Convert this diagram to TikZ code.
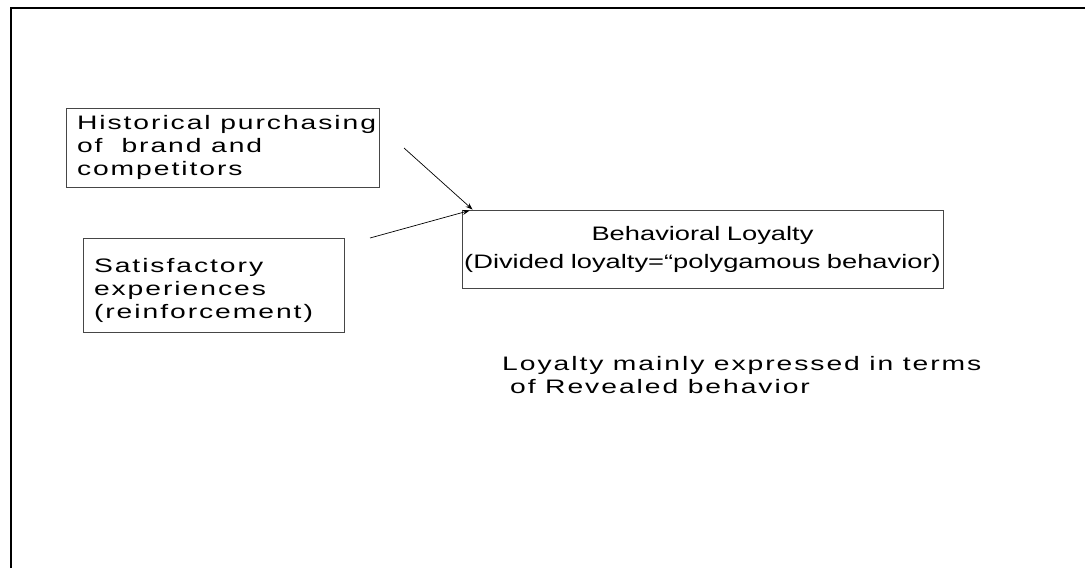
\documentclass[tikz,border=0pt]{standalone}
\usepackage{fontspec}
\setmainfont{Liberation Sans}[FakeStretch=1.4]
\newfontfamily\spacedfont{Liberation Sans}[FakeStretch=1.45,LetterSpace=10]
\usetikzlibrary{arrows.meta, positioning, calc}
\definecolor{boxline}{RGB}{70,70,70}
\newcommand{\bodysize}{\fontsize{19.5}{23}\selectfont}

\begin{document}
\begin{tikzpicture}[x=1pt, y=-1pt, font=\bodysize,
        box/.style={draw=boxline, line width=0.9pt, inner sep=0pt},
        spaced/.style={font=\spacedfont\bodysize, execute at begin node={\spaceskip=9.5pt}},
        link/.style={-{Stealth[length=7pt,width=5pt]}, line width=0.7pt}]
    \useasboundingbox (0,0) rectangle (1085,568);
    % frame
    \draw[line width=2.6pt] (11,568) -- (11,8) -- (1085,8);

    \node[box, spaced, minimum width=313pt, minimum height=79pt, text width=291pt, align=left]
          (hist) at (222.5,147.5)
          {\mbox{Historical purchasing}\\of\ \ brand and\\competitors};
    \node[box, spaced, minimum width=261pt, minimum height=94pt, text width=239pt, align=left]
          (satis) at (213.5,285)
          {\mbox{}\\[2pt]Satisfactory\\experiences\\(reinforcement)};
    \node[box, minimum width=481pt, minimum height=78pt, text width=481pt, align=center,
          font=\fontsize{19.5}{28}\selectfont] (behav) at (702.5,249)
          {\raisebox{0pt}[16pt][6pt]{}Behavioral Loyalty\\\mbox{(Divided loyalty=“polygamous behavior)}};
    \node[spaced, inner sep=0pt, anchor=north west, align=left] (note)
          at (502,356) {Loyalty mainly expressed in terms\\\hspace*{8pt}of Revealed behavior};

    \coordinate (fromhist) at (404,148);
    \coordinate (fromsatis) at (370,238);
    \draw[link] (fromhist) -- ($(behav.north west)+(11,0)$);
    \draw[link] (fromsatis) -- ($(behav.north west)+(8,1)$);
\end{tikzpicture}
\end{document}
